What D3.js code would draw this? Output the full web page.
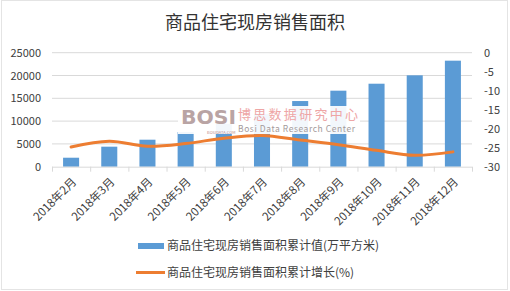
<!DOCTYPE html>
<html>
<head>
<meta charset="utf-8">
<script src="https://cdn.jsdelivr.net/npm/d3@7"></script>
<style>
  body { margin: 0; background: #fff; }
  svg { display: block; font-family: "Microsoft YaHei", "Noto Sans CJK SC", sans-serif; }
</style>
</head>
<body>
<div id="chart"></div>
<script>
// Data
const months = ["2018年2月", "2018年3月", "2018年4月", "2018年5月", "2018年6月", "2018年7月",
  "2018年8月", "2018年9月", "2018年10月", "2018年11月", "2018年12月"];
const areaValues = [1970, 4390, 5920, 7600, 9400, 11600, 14400, 16670, 18200, 20040, 23250];
const growthValues = [-24.8, -23.3, -24.6, -23.9, -22.5, -21.8, -23.0, -24.2, -25.7, -27.0, -26.1];
const leftTicks = [0, 5000, 10000, 15000, 20000, 25000];
const rightTicks = [0, -5, -10, -15, -20, -25, -30];
const seriesNames = ["商品住宅现房销售面积累计值(万平方米)", "商品住宅现房销售面积累计增长(%)"];

const width = 510;
const height = 291;
const COLOR_BAR = "#5b9bd5";
const COLOR_LINE = "#ed7d31";
const plot = { left: 52, right: 472, top: 52.7, bottom: 166.7 };

const svg = d3.select("#chart")
  .append("svg")
  .attr("width", width)
  .attr("height", height);

// faint outer border
svg.append("rect")
  .attr("x", 1.5).attr("y", 0.5)
  .attr("width", width - 4).attr("height", height - 2)
  .attr("fill", "none")
  .attr("stroke", "#e4e4e4");

// title
svg.append("text")
  .attr("x", 255)
  .attr("y", 29)
  .attr("text-anchor", "middle")
  .attr("font-size", "18px")
  .attr("fill", "#333")
  .text("商品住宅现房销售面积");

// scales
const x = d3.scaleBand().domain(months).range([plot.left, plot.right]).paddingInner(0.58).paddingOuter(0.29);
const xStep = d3.scaleBand().domain(months).range([plot.left, plot.right]);
const yLeft = d3.scaleLinear().domain([0, 25000]).range([plot.bottom, plot.top]);
const yRight = d3.scaleLinear().domain([-30, 0]).range([plot.bottom, plot.top]);

// gridlines
svg.append("g")
  .selectAll("line")
  .data(leftTicks.slice(1))
  .join("line")
  .attr("x1", plot.left).attr("x2", plot.right)
  .attr("y1", d => yLeft(d)).attr("y2", d => yLeft(d))
  .attr("stroke", "#d9d9d9")
  .attr("stroke-width", 1);

// left axis labels
svg.append("g")
  .selectAll("text")
  .data(leftTicks)
  .join("text")
  .attr("x", 41)
  .attr("y", d => yLeft(d) + 4)
  .attr("text-anchor", "end")
  .attr("font-size", "11px")
  .attr("fill", "#404040")
  .text(d => d);

// right axis labels
svg.append("g")
  .selectAll("text")
  .data(rightTicks)
  .join("text")
  .attr("x", 484)
  .attr("y", d => yRight(d) + 4)
  .attr("text-anchor", "start")
  .attr("font-size", "11px")
  .attr("fill", "#404040")
  .text(d => d);

// bars
svg.append("g")
  .selectAll("rect")
  .data(areaValues)
  .join("rect")
  .attr("x", (d, i) => x(months[i]))
  .attr("y", d => yLeft(d))
  .attr("width", x.bandwidth())
  .attr("height", d => yLeft(0) - yLeft(d))
  .attr("fill", COLOR_BAR);

// x axis line and ticks
svg.append("line")
  .attr("x1", plot.left).attr("x2", plot.right)
  .attr("y1", plot.bottom + 0.5).attr("y2", plot.bottom + 0.5)
  .attr("stroke", "#d9d9d9");
svg.append("g")
  .selectAll("line")
  .data(months.concat(["end"]))
  .join("line")
  .attr("x1", (d, i) => plot.left + i * xStep.step() + 0.5)
  .attr("x2", (d, i) => plot.left + i * xStep.step() + 0.5)
  .attr("y1", plot.bottom)
  .attr("y2", plot.bottom + 5)
  .attr("stroke", "#d9d9d9");

// x labels, rotated
svg.append("g")
  .selectAll("text")
  .data(months)
  .join("text")
  .attr("transform", d => `translate(${xStep(d) + xStep.bandwidth() / 2 + 6},${plot.bottom + 16}) rotate(-45)`)
  .attr("text-anchor", "end")
  .attr("font-size", "11.5px")
  .attr("fill", "#404040")
  .text(d => d);

// growth line
const line = d3.line()
  .x((d, i) => xStep(months[i]) + xStep.bandwidth() / 2)
  .y(d => yRight(d))
  .curve(d3.curveCatmullRom.alpha(0.5));

svg.append("path")
  .datum(growthValues)
  .attr("d", line)
  .attr("fill", "none")
  .attr("stroke", COLOR_LINE)
  .attr("stroke-width", 3)
  .attr("stroke-linecap", "round");

// watermark
const wm = svg.append("g").attr("class", "watermark");
wm.append("rect")
  .attr("x", 178).attr("y", 106)
  .attr("width", 182).attr("height", 28)
  .attr("fill", "#fff")
  .attr("opacity", 0.92);
wm.append("text")
  .attr("x", 181).attr("y", 123.5)
  .attr("font-family", "Arial Black, DejaVu Sans, sans-serif")
  .attr("font-weight", "bold")
  .attr("font-size", "20px")
  .attr("fill", "#b9a4a4")
  .attr("textLength", 55)
  .attr("lengthAdjust", "spacingAndGlyphs")
  .text("BOSI");
wm.append("text")
  .attr("x", 207).attr("y", 133.5)
  .attr("font-size", "4px")
  .attr("fill", "#c08a8a")
  .text("BOSIDATA.COM");
wm.append("text")
  .attr("x", 238).attr("y", 118.5)
  .attr("font-size", "13px")
  .attr("fill", "#eea6a6")
  .attr("textLength", 120)
  .text("博思数据研究中心");
wm.append("text")
  .attr("x", 238).attr("y", 132)
  .attr("font-size", "8.5px")
  .attr("fill", "#a39a9a")
  .attr("textLength", 117)
  .text("Bosi Data Research Center");

// legend
const legend = svg.append("g").attr("class", "legend");
legend.append("rect")
  .attr("x", 138).attr("y", 243)
  .attr("width", 26).attr("height", 6)
  .attr("fill", COLOR_BAR);
legend.append("line")
  .attr("x1", 136).attr("x2", 165)
  .attr("y1", 272.5).attr("y2", 272.5)
  .attr("stroke", COLOR_LINE)
  .attr("stroke-width", 3);
legend.selectAll(".legend-label")
  .data(seriesNames)
  .join("text")
  .attr("class", "legend-label")
  .attr("x", 167)
  .attr("y", (d, i) => 250 + i * 27)
  .attr("font-size", "12px")
  .attr("fill", "#404040")
  .text(d => d);
</script>
</body>
</html>
